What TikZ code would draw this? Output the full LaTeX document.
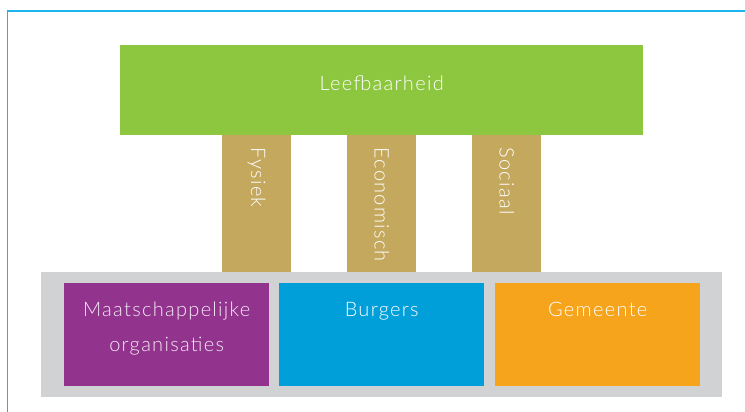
\documentclass[tikz,border=0pt]{standalone}
\usepackage{fontspec}
\setmainfont{Lato}[UprightFont=* Light]
\definecolor{frameblue}{HTML}{1DB4EC}
\definecolor{lgreen}{HTML}{8DC63F}
\definecolor{tan}{HTML}{C4A85E}
\definecolor{lgray}{HTML}{D1D2D4}
\definecolor{purp}{HTML}{92338E}
\definecolor{sky}{HTML}{009FDA}
\definecolor{orng}{HTML}{F7A41D}
\tikzset{
  box/.style={draw=none, inner sep=0pt, anchor=north west},
  lbl/.style={text=white, font=\fontsize{20}{24}\selectfont\addfontfeature{LetterSpace=6.5}, inner sep=0pt},
  plbl/.style={lbl, rotate=-90, anchor=west}
}
\begin{document}
\begin{tikzpicture}[x=1pt,y=-1pt]
\useasboundingbox (0,0) rectangle (745,412);
% frame
\draw[frameblue, line width=2pt] (6.5,11) -- (745,11);
\draw[frameblue, line width=1pt] (7,10) -- (7,412);
% gray base
\node[box, fill=lgray, minimum width=681pt, minimum height=125pt] (base) at (41,272) {};
% pillars
\node[box, fill=tan, minimum width=69pt, minimum height=137pt] (p1) at (222,135) {};
\node[box, fill=tan, minimum width=69pt, minimum height=137pt] (p2) at (347,135) {};
\node[box, fill=tan, minimum width=69pt, minimum height=137pt] (p3) at (472,135) {};
% green roof
\node[box, fill=lgreen, minimum width=523pt, minimum height=90pt] (roof) at (120,45) {};
\node[lbl] at ([yshift=7pt]roof.center) {Leefbaarheid};
% pillar labels
\node[plbl] at ([yshift=-12pt]p1.north) {Fysiek};
\node[plbl] at ([yshift=-12pt]p2.north) {Economisch};
\node[plbl] at ([yshift=-12pt]p3.north) {Sociaal};
% bottom boxes
\node[box, fill=purp, minimum width=205pt, minimum height=103pt] (b1) at (64,283) {};
\node[box, fill=sky, minimum width=205pt, minimum height=103pt] (b2) at (279,283) {};
\node[box, fill=orng, minimum width=205pt, minimum height=103pt] (b3) at (495,283) {};
\node[lbl, align=center, anchor=north, text=white!90!purp] at ([yshift=-19pt]b1.north) {Maatschappelijke\\[11pt]organisaties};
\node[lbl, anchor=north] at ([yshift=-19pt]b2.north) {Burgers};
\node[lbl, anchor=north] at ([yshift=-19pt]b3.north) {Gemeente};
\end{tikzpicture}
\end{document}
